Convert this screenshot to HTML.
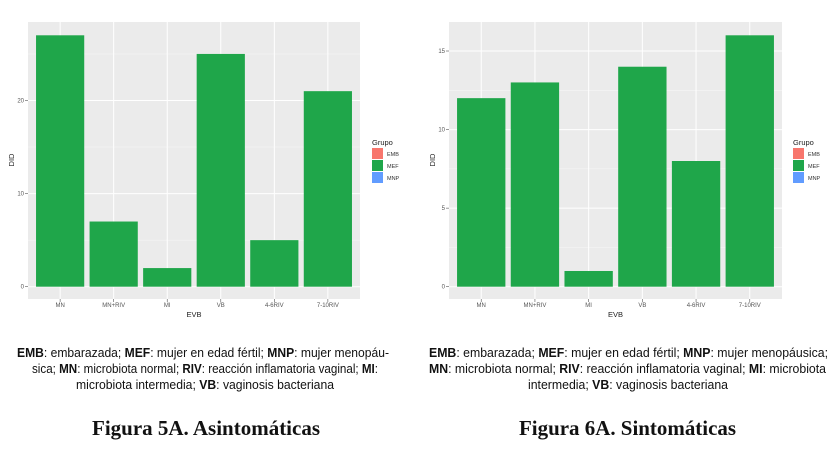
<!DOCTYPE html>
<html><head><meta charset="utf-8"><style>
body{margin:0;background:#fff;width:832px;height:462px;overflow:hidden;position:relative}
svg{display:block;position:absolute;left:0;top:0}
.cap{position:absolute;white-space:nowrap;font-family:"Liberation Sans",sans-serif;font-size:12.5px;color:#111;line-height:14px;transform-origin:0 0}
.cap b{font-weight:bold}
.ttl{position:absolute;white-space:nowrap;font-family:"Liberation Serif",serif;font-weight:bold;font-size:21px;color:#111;line-height:24px;transform-origin:0 0}
</style></head><body>
<svg id="s" width="832" height="462" xmlns="http://www.w3.org/2000/svg" font-family="Liberation Sans, sans-serif"></svg>
<div class="cap" data-x1="17" data-x2="389" style="top:346px"><b>EMB</b>: embarazada; <b>MEF</b>: mujer en edad fértil; <b>MNP</b>: mujer menopáu-</div>
<div class="cap" data-x1="32" data-x2="378" style="top:362px">sica; <b>MN</b>: microbiota normal; <b>RIV</b>: reacción inflamatoria vaginal; <b>MI</b>:</div>
<div class="cap" data-x1="76" data-x2="334" style="top:378px">microbiota intermedia; <b>VB</b>: vaginosis bacteriana</div>
<div class="cap" data-x1="429" data-x2="828" style="top:346px"><b>EMB</b>: embarazada; <b>MEF</b>: mujer en edad fértil; <b>MNP</b>: mujer menopáusica;</div>
<div class="cap" data-x1="429" data-x2="826" style="top:362px"><b>MN</b>: microbiota normal; <b>RIV</b>: reacción inflamatoria vaginal; <b>MI</b>: microbiota</div>
<div class="cap" data-x1="528" data-x2="728" style="top:378px">intermedia; <b>VB</b>: vaginosis bacteriana</div>
<div class="ttl" data-x1="92" data-x2="320" style="top:416px">Figura 5A. Asintomáticas</div>
<div class="ttl" data-x1="519" data-x2="736" style="top:416px">Figura 6A. Sintomáticas</div>
<script>
const categories = ["MN","MN+RIV","MI","VB","4-6RIV","7-10RIV"];
const valuesA = [27,7,2,25,5,21];
const valuesB = [12,13,1,14,8,16];
const ticksA = [0,10,20];
const ticksB = [0,5,10,15];
const legendLabels = ["EMB","MEF","MNP"];
const legendColors = ["#f8766d","#1fa64a","#619cff"];

const NS="http://www.w3.org/2000/svg";
const svg=document.getElementById('s');
function el(tag,attrs,parent,text){const e=document.createElementNS(NS,tag);for(const k in attrs)e.setAttribute(k,attrs[k]);if(text!==undefined)e.textContent=text;(parent||svg).appendChild(e);return e;}

function chart(name,x0,x1,maxV,vals,ticks,legX){
  const g=el('g',{},svg);
  
  
  const yTop=22,yBot=299,yZero=286.7;
  const unit=(yZero-yTop-13.3)/maxV;
  const y=v=>yZero-v*unit;
  const band=(x1-x0)/(categories.length+0.2);
  const xc=i=>x0+band*(i+0.6);
  const bg=el('rect',{x:x0,y:yTop,width:x1-x0,height:yBot-yTop,fill:'#ebebeb'},g);
  
  
  for(let k=0;k<ticks.length;k++){
    const mid=ticks[k]+(ticks[1]-ticks[0])/2;
    if(y(mid)>yTop) el('line',{x1:x0,x2:x1,y1:y(mid),y2:y(mid),stroke:'#f5f5f5','stroke-width':0.6},g);
  }
  ticks.forEach(t=>{
    el('line',{x1:x0,x2:x1,y1:y(t),y2:y(t),stroke:'#fff','stroke-width':1},g);
    el('line',{x1:x0-3,x2:x0,y1:y(t),y2:y(t),stroke:'#555','stroke-width':0.6},g);
    const tl=el('text',{x:x0-4,y:y(t)+2,'font-size':6,fill:'#555','text-anchor':'end'},g,String(t));
    
    
  });
  categories.forEach((c,i)=>{
    el('line',{x1:xc(i),x2:xc(i),y1:yTop,y2:yBot,stroke:'#fff','stroke-width':1},g);
  });
  vals.forEach((v,i)=>{
    const w=band*0.9;
    const r=el('rect',{x:xc(i)-w/2,y:y(v),width:w,height:yZero-y(v),fill:'#1fa64a'},g);
    
    
    el('line',{x1:xc(i),x2:xc(i),y1:yBot,y2:yBot+3,stroke:'#555','stroke-width':0.6},g);
    const xl=el('text',{x:xc(i),y:yBot+8,'font-size':6,fill:'#555','text-anchor':'middle'},g,categories[i]);
    
    
  });
  const xt=el('text',{x:(x0+x1)/2,y:317,'font-size':7.5,fill:'#222','text-anchor':'middle'},g,'EVB');
  
  
  const yt=el('text',{x:0,y:0,'font-size':7.5,fill:'#222','text-anchor':'middle',transform:`translate(${x0-14},160) rotate(-90)`},g,'DID');
  
  
  const lt=el('text',{x:legX,y:145,'font-size':7.5,fill:'#222'},g,'Grupo');
  
  
  legendLabels.forEach((l,i)=>{
    const ky=148+i*12;
    const kr=el('rect',{x:legX,y:ky,width:11,height:11,fill:legendColors[i]},g);
    
    
    const kt=el('text',{x:legX+15,y:ky+8,'font-size':5.5,fill:'#333'},g,l);
    
    
  });
}
chart('chart-asintomaticas',28,360,27,valuesA,ticksA,372);
chart('chart-sintomaticas',449,782,16,valuesB,ticksB,793);

document.querySelectorAll('.cap,.ttl').forEach(d=>{
  const x1=+d.dataset.x1,x2=+d.dataset.x2;
  d.style.left=x1+'px';
  const w=d.getBoundingClientRect().width;
  d.style.transform='scaleX('+((x2-x1)/w)+')';
});
</script>
</body></html>
